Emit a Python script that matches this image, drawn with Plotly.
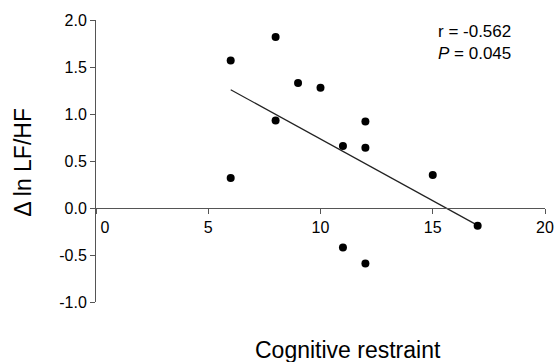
import numpy as np
import plotly.graph_objects as go

# Data
restraint = [6, 6, 8, 8, 9, 10, 11, 11, 12, 12, 12, 15, 17]
delta_ln_lfhf = [1.57, 0.32, 1.82, 0.93, 1.33, 1.28, 0.66, -0.42, 0.92, 0.64, -0.59, 0.35, -0.19]

x_ticks = [0, 5, 10, 15, 20]
x_ticktext = ["\u00a0\u00a0\u00a0\u00a00", "5", "10", "15", "20"]
y_ticks = [-1.0, -0.5, 0.0, 0.5, 1.0, 1.5, 2.0]
y_ticktext = ["-1.0", "-0.5", "0.0", "0.5", "1.0", "1.5", "2.0"]

stats_text = "r = -0.562<br><i>P</i> = 0.045"

# Least-squares regression line over the observed x span
slope, intercept = np.polyfit(restraint, delta_ln_lfhf, 1)
fit_x = [min(restraint), max(restraint)]
fit_y = [slope * v + intercept for v in fit_x]

FONT = "Arial, 'Liberation Sans', sans-serif"
AXIS_COLOR = "#555555"

fig = go.Figure()
fig.add_trace(go.Scatter(x=fit_x, y=fit_y, mode="lines",
                         line=dict(color="#222222", width=1.2),
                         showlegend=False, hoverinfo="skip"))
fig.add_trace(go.Scatter(x=restraint, y=delta_ln_lfhf, mode="markers",
                         marker=dict(color="black", size=8),
                         showlegend=False))

fig.update_layout(
    width=557, height=362,
    margin=dict(l=96, r=12, t=20, b=60, autoexpand=False),
    paper_bgcolor="white", plot_bgcolor="white",
    font=dict(family=FONT, color="black", size=16),
    xaxis=dict(range=[0, 20], tickvals=x_ticks, ticktext=x_ticktext,
               showgrid=False, zeroline=False, showline=True,
               linecolor=AXIS_COLOR, linewidth=1, automargin=False,
               ticks="outside", ticklen=5, tickcolor=AXIS_COLOR,
               anchor="free", position=1/3,
               tickfont=dict(size=16, family=FONT, color="black")),
    yaxis=dict(range=[-1, 2], tickvals=y_ticks, ticktext=y_ticktext,
               showgrid=False, zeroline=False, showline=True,
               linecolor=AXIS_COLOR, linewidth=1, automargin=False,
               ticks="outside", ticklen=5, tickcolor=AXIS_COLOR,
               domain=[0, 1],
               tickfont=dict(size=16, family=FONT, color="black")),
    annotations=[
        dict(text=stats_text, xref="paper", yref="paper", x=0.757, y=0.92,
             xanchor="left", yanchor="middle", align="left", showarrow=False,
             font=dict(size=17, family=FONT, color="black")),
        dict(text="Cognitive restraint", xref="paper", yref="paper",
             x=0.561, y=-0.17, xanchor="center", yanchor="middle",
             showarrow=False, font=dict(size=23, family=FONT, color="black")),
        dict(text="\u0394 ln LF/HF", xref="paper", yref="paper",
             x=-0.1626, y=0.4975, xanchor="center", yanchor="middle",
             textangle=-90, showarrow=False,
             font=dict(size=23, family=FONT, color="black")),
    ],
)

# Remove the browser's default 8px body margin so the figure fills the window
fig.write_html("out.html",
               config={"displayModeBar": False},
               post_script="document.body.style.margin='0';"
                           "document.body.style.overflow='hidden';")
